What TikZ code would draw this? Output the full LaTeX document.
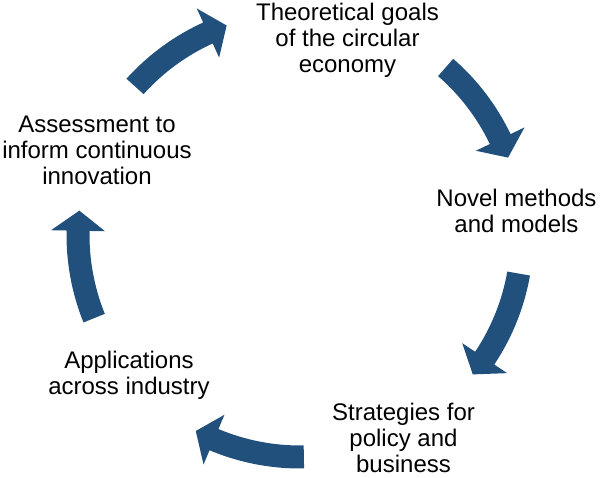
\documentclass[tikz,border=0pt]{standalone}
\usepackage{fontspec}
\setmainfont{Liberation Sans}
\definecolor{cyclblue}{RGB}{33,80,124}
\newcommand{\cyclearrow}[2]{% tail angle, tip angle (clockwise)
  \pgfmathsetmacro\hbase{#2+5.2}
  \fill[arrowfill] (#1:233.5pt) arc[start angle=#1, end angle=\hbase, radius=233.5pt]
    -- (\hbase:249pt) -- (#2:222pt) -- (\hbase:195pt) -- (\hbase:210.5pt)
    arc[start angle=\hbase, end angle=#1, radius=210.5pt] -- cycle;
}
\begin{document}
\begin{tikzpicture}[x=1pt,y=1pt,
  arrowfill/.style={fill=cyclblue},
  lbl/.style={align=center,inner sep=0pt,anchor=base,font=\fontsize{24}{26}\selectfont}]
\useasboundingbox[fill=white] (0,0) rectangle (600,478);
\begin{scope}[shift={(300,243)}]
  \cyclearrow{138}{109.3}
  \cyclearrow{49}{20.4}
  \cyclearrow{-10}{-38.9}
  \cyclearrow{-89}{-118}
  \cyclearrow{-158}{-186.3}
\end{scope}
\node[lbl] (goals) at (347.5,405) {Theoretical goals\\of the circular\\economy};
\node[lbl] (methods) at (516.5,245.7) {Novel methods\\and models};
\node[lbl] (strategies) at (403.5,5.2) {Strategies for\\policy and\\business};
\node[lbl] (applications) at (129,83.7) {Applications\\across industry};
\node[lbl] (assessment) at (97,293) {Assessment to\\inform continuous\\innovation};
\end{tikzpicture}
\end{document}
